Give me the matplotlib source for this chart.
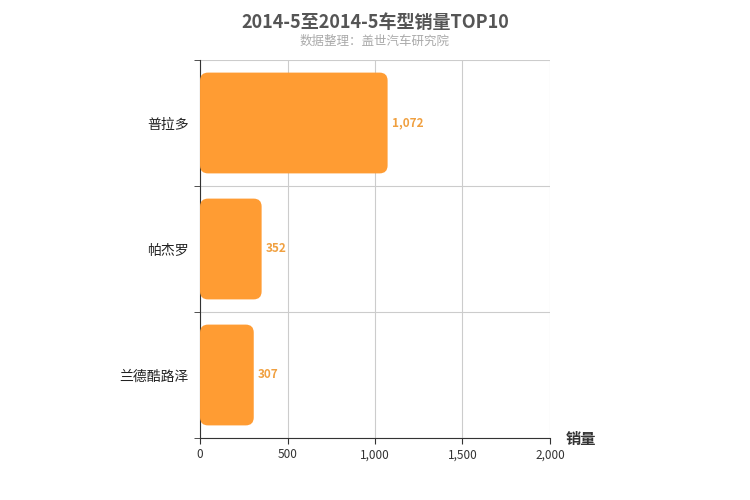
import matplotlib
matplotlib.use("Agg")
import matplotlib.pyplot as plt
from matplotlib.patches import FancyBboxPatch

plt.rcParams['font.family'] = ['Noto Sans CJK SC', 'DejaVu Sans']

models = ["普拉多", "帕杰罗", "兰德酷路泽"]
sales = [1072, 352, 307]
xticks = [0, 500, 1000, 1500, 2000]

fig = plt.figure(figsize=(7.5, 5), dpi=100)
ax = fig.add_axes([0.2667, 0.124, 0.4666, 0.756])

n = len(models)
ax.set_xlim(0, 2000)
ax.set_ylim(n - 0.5, -0.5)

bar_h = 0.8
for i, v in enumerate(sales):
    p = FancyBboxPatch((0, i - bar_h / 2), v, bar_h,
                       boxstyle="round,pad=0,rounding_size=46",
                       mutation_aspect=0.063 / 46,
                       facecolor="#FF9C33", edgecolor="none", zorder=3)
    ax.add_patch(p)
    ax.text(v + 25, i, f"{v:,}", va="center", ha="left",
            color="#F0A040", fontsize=8.5, fontweight="bold")

ax.set_xticks(xticks)
ax.set_xticklabels([f"{t:,}" for t in xticks], fontsize=8.5, color="#333333")
ax.set_yticks(range(n))
ax.set_yticklabels(models, fontsize=10, color="#222222")
ax.tick_params(axis="y", length=0, pad=8)
ax.tick_params(axis="x", length=4, color="#333333")
ax.set_yticks([i + 0.5 for i in range(-1, n)], minor=True)
ax.tick_params(axis="y", which="minor", length=4, color="#333333")

ax.grid(axis="x", color="#cccccc", linewidth=0.8, zorder=0)
for i in range(-1, n):
    ax.axhline(i + 0.5, color="#cccccc", linewidth=0.8, zorder=0)

for s in ["top", "right"]:
    ax.spines[s].set_visible(False)
ax.spines["left"].set_color("#333333")
ax.spines["bottom"].set_color("#333333")

fig.text(0.5, 0.955, "2014-5至2014-5车型销量TOP10", ha="center", va="center",
         fontsize=13, fontweight="bold", color="#555555")
fig.text(0.5, 0.918, "数据整理：盖世汽车研究院", ha="center", va="center",
         fontsize=9, color="#aaaaaa")
fig.text(0.775, 0.122, "销量", ha="center", va="center", fontsize=11,
         fontweight="bold", color="#333333")

fig.savefig("out.png", dpi=100)
